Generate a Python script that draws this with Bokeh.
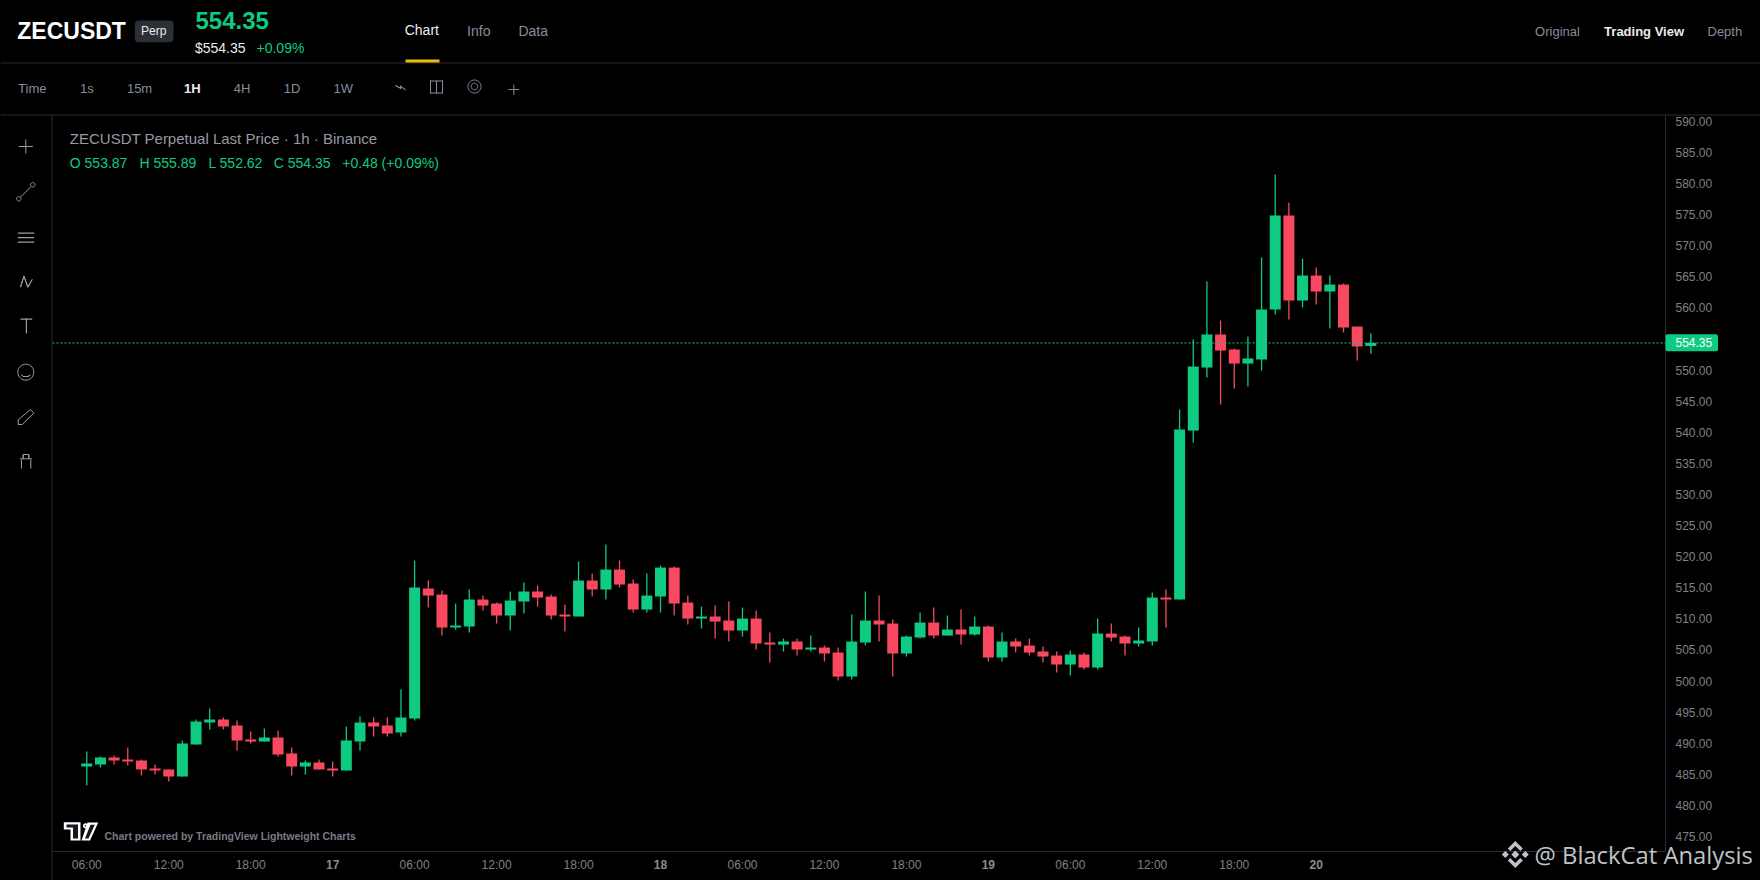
import math
from bokeh.plotting import figure
from bokeh.layouts import column, row
from bokeh.embed import file_html
from bokeh.resources import INLINE
from bokeh.models import (ColumnDataSource, Range1d, FixedTicker, NumeralTickFormatter,
                          Label, BoxAnnotation, PolyAnnotation, Span)

# ---------- data (1h candles) ----------
open_ = [486.26,486.58,487.70,487.38,487.22,485.93,485.77,484.65,489.79,493.33,
         493.81,492.85,490.60,490.27,490.92,488.35,486.26,486.90,485.93,485.61,
         490.27,493.33,492.85,491.72,493.97,514.87,513.90,508.60,508.76,513.10,
         512.46,510.53,512.78,514.39,513.58,510.69,510.37,516.15,514.71,517.92,
         515.67,511.49,513.58,518.24,512.62,510.04,510.37,509.72,508.12,510.04,
         506.19,505.86,506.35,505.06,505.38,504.58,500.72,506.19,509.72,509.24,
         504.42,506.99,509.40,507.31,508.28,507.47,508.76,503.78,506.35,505.70,
         504.74,504.10,502.65,504.26,502.17,507.63,507.15,506.03,506.35,513.42,
         513.10,540.27,550.40,555.71,553.29,551.04,551.69,559.73,574.84,561.17,
         565.19,562.62,563.74,556.99,553.87]
high_ = [488.67,487.86,488.02,489.31,487.38,486.58,485.77,490.44,493.81,495.58,
         494.13,493.65,491.88,492.36,492.04,489.31,487.22,487.38,487.06,492.69,
         494.29,494.13,494.13,498.64,519.37,516.15,514.55,512.46,514.71,513.74,
         512.62,514.39,515.83,515.35,513.90,512.30,519.21,517.28,521.94,519.37,
         516.31,517.28,518.57,518.40,513.74,511.97,512.13,512.78,511.81,511.33,
         507.79,506.83,506.83,507.31,505.70,505.38,510.69,514.39,513.74,509.88,
         507.31,511.01,511.81,510.53,511.49,510.37,508.92,507.79,506.83,506.83,
         505.54,504.74,504.90,504.58,510.05,509.24,507.31,508.60,514.23,514.71,
         543.65,554.90,564.23,557.96,553.45,555.38,568.09,581.43,576.93,567.92,
         566.48,565.19,563.91,556.99,555.89]
low_ = [483.20,486.09,486.58,486.42,484.81,484.97,483.84,484.65,489.79,492.20,
        492.20,488.83,489.95,490.27,487.86,484.81,484.97,485.77,484.65,485.61,
        488.83,491.08,491.08,491.08,493.65,511.81,507.31,508.28,507.79,511.33,
        509.24,508.12,510.85,511.97,509.88,507.95,510.37,513.58,513.10,515.03,
        511.01,511.01,511.01,510.53,509.08,508.44,506.83,506.35,507.15,505.06,
        502.97,504.74,504.10,504.74,503.13,500.08,500.24,505.70,506.35,500.72,
        503.94,506.83,506.83,507.31,505.87,507.31,503.13,503.13,504.58,504.10,
        502.97,501.36,500.88,501.85,501.85,506.35,504.10,505.54,505.70,508.60,
        513.10,538.34,548.79,544.45,547.02,547.35,549.92,558.92,558.12,560.05,
        560.53,556.67,556.03,551.53,552.62]
close_ = [486.74,487.70,487.22,487.06,485.77,485.61,484.65,489.95,493.49,493.81,
          492.69,490.44,490.27,490.92,488.18,486.26,486.90,485.77,485.61,490.44,
          493.33,492.69,491.56,494.13,515.03,513.74,508.60,508.92,513.10,512.13,
          510.53,512.94,514.39,513.42,510.53,510.37,516.15,514.71,517.92,515.51,
          511.49,513.74,518.24,512.46,510.04,510.37,509.56,508.12,510.04,506.03,
          505.86,506.35,505.06,505.38,504.42,500.72,506.35,509.72,509.08,504.42,
          507.15,509.40,507.31,508.28,507.47,508.76,503.78,506.35,505.54,504.58,
          503.94,502.65,504.26,502.17,507.63,506.99,506.03,506.51,513.42,513.10,
          540.43,550.56,555.71,553.13,551.04,551.85,559.73,574.84,561.17,565.19,
          562.62,563.74,556.83,553.78,554.35]
last_price = 554.35
x_ticks = [0,6,12,18,24,30,36,42,48,54,60,66,72,78,84,90]
x_labels = ["06:00","12:00","18:00","17","06:00","12:00","18:00","18",
            "06:00","12:00","18:00","19","06:00","12:00","18:00","20"]
y_ticks = [475,480,485,490,495,500,505,510,515,520,525,530,535,540,545,550,
           560,565,570,575,580,585,590]
intervals = ["1s","15m","1H","4H","1D","1W"]
interval_x = [79.4,126.4,183.5,233.2,283.3,333.1]

# ---------- styles ----------
BG = "#000000"
UP = "#0ecb81"
DOWN = "#f84960"
LINE = "#2b2c36"
GREY = "#848e9c"
AXIS_TXT = "#808080"
FONT = "Liberation Sans"
W, H = 1760, 880

x = list(range(len(open_)))
colors = [UP if c >= o else DOWN for o, c in zip(open_, close_)]
src = ColumnDataSource(dict(x=x, o=open_, h=high_, l=low_, c=close_, color=colors,
                            top=[max(o, c) for o, c in zip(open_, close_)],
                            bot=[min(o, c) for o, c in zip(open_, close_)]))

p = figure(width=W, height=H, output_backend="svg", toolbar_location=None,
           x_range=Range1d(-2.51, 115.57), y_range=Range1d(472.59, 590.92),
           y_axis_location="right", min_border_left=52, min_border_top=115,
           min_border_right=95, min_border_bottom=29, margin=0,
           background_fill_color=BG, border_fill_color=BG, outline_line_color=None)
p.grid.visible = False

p.segment("x", "h", "x", "l", source=src, color="color", line_width=1.3)
p.vbar("x", width=0.805, top="top", bottom="bot", source=src, fill_color="color", line_color=None)

xa = p.xaxis[0]
xa.ticker = FixedTicker(ticks=x_ticks)
xa.major_label_overrides = {t: ("" if len(l) == 2 else l) for t, l in zip(x_ticks, x_labels)}
xa.major_tick_line_color = None
xa.major_tick_out = 0
xa.minor_tick_line_color = None
xa.axis_line_color = "#2a2a2a"
xa.major_label_text_color = AXIS_TXT
xa.major_label_text_font = FONT
xa.major_label_text_font_size = "12px"
xa.major_label_standoff = 6

ya = p.yaxis[0]
ya.ticker = FixedTicker(ticks=y_ticks)
ya.formatter = NumeralTickFormatter(format="0.00")
ya.major_tick_line_color = None
ya.major_tick_out = 0
ya.minor_tick_line_color = None
ya.axis_line_color = LINE
ya.major_label_text_color = AXIS_TXT
ya.major_label_text_font = FONT
ya.major_label_text_font_size = "12px"
ya.major_label_standoff = 10

p.add_layout(Span(location=last_price, dimension="width", line_color=UP, line_width=1, line_dash="2 2"))

# Transparent page-sized layer for the surrounding interface. Its x scale is the
# chart's own time scale, extended to the whole page.
ov = figure(width=W, height=H, output_backend="svg", toolbar_location=None,
            x_range=Range1d(-6.317, 122.526), y_range=Range1d(H, 0),
            x_axis_type=None, y_axis_type=None, min_border=0, margin=0,
            background_fill_alpha=0, border_fill_alpha=0, outline_line_color=None)
ov.grid.visible = False


def txt(px, py, s, size, color, bold=False, align="left", font=FONT, alpha=1.0):
    ov.add_layout(Label(x=px, y=py, x_units="canvas", y_units="canvas", text=s,
                        text_font=font, text_font_size=f"{size}px", text_color=color,
                        text_alpha=alpha, text_font_style="bold" if bold else "normal",
                        text_align=align, text_baseline="middle"))


def rect(x0, y0, x1, y1, color, radius=0):
    ov.add_layout(BoxAnnotation(left=x0, right=x1, top=y0, bottom=y1,
                                left_units="canvas", right_units="canvas",
                                top_units="canvas", bottom_units="canvas",
                                fill_color=color, fill_alpha=1, line_color=None,
                                border_radius=radius))


def poly(pts, fill=None, line=None, width=1.0):
    ov.add_layout(PolyAnnotation(xs=[a for a, _ in pts], ys=[b for _, b in pts],
                                 xs_units="canvas", ys_units="canvas",
                                 fill_color=fill or BG, fill_alpha=1 if fill else 0,
                                 line_color=line or BG, line_alpha=1 if line else 0,
                                 line_width=width))


def path(pts, color, width=1.0):
    poly(pts + pts[-2:0:-1], None, color, width)


def ring(cx, cy, r, color, width=1.0):
    n = 36
    poly([(cx + r * math.cos(2 * math.pi * k / n), cy + r * math.sin(2 * math.pi * k / n)) for k in range(n)],
         None, color, width)


# structure lines
rect(0, 62, W, 63, LINE)
rect(0, 114, W, 115, LINE)
rect(51, 115, 52, H, LINE)

# day labels on the time axis (bold)
for t, l in zip(x_ticks, x_labels):
    if len(l) == 2:
        ov.add_layout(Label(x=t, y=863.9, x_units="data", y_units="canvas", text=l,
                            text_font=FONT, text_font_size="12px", text_color="#8c8c8c",
                            text_font_style="bold", text_align="center", text_baseline="middle"))

# price tag
rect(1665, 333.7, 1717.5, 350.7, UP, 2)
txt(1675, 341.7, "554.35", 12, "#ffffff")

# header
txt(16.8, 30.2, "ZECUSDT", 23, "#ffffff", bold=True)
rect(134.3, 20, 173, 41.7, "#2b2f36", 4)
txt(153.2, 30.2, "Perp", 12, "#eaecef", align="center")
txt(195, 19.8, "554.35", 24, UP, bold=True)
txt(194.4, 47.3, "$554.35", 14, "#eaecef")
txt(256, 47.3, "+0.09%", 14, UP)
txt(404.2, 29.6, "Chart", 14, "#eaecef")
rect(405, 59, 439, 62, "#f0b90b")
txt(466.6, 30.2, "Info", 14, GREY)
txt(517.9, 30.2, "Data", 14, GREY)
txt(1534.6, 31.3, "Original", 13, GREY)
txt(1603.6, 31.3, "Trading View", 13, "#eaecef", bold=True)
txt(1707, 31.3, "Depth", 13, GREY)

# interval row
txt(17.6, 88.3, "Time", 13, GREY)
for lab, ix in zip(intervals, interval_x):
    active = lab == "1H"
    txt(ix, 88.3, lab, 13, "#eaecef" if active else GREY, bold=active)
path([(395, 85), (400.5, 88), (400, 85.5), (405, 89.5)], GREY, 1)
for a, b, c, d in [(429.5, 80, 442.5, 81), (429.5, 92, 442.5, 93), (429.5, 80, 430.5, 93),
                   (441.5, 80, 442.5, 93), (435.5, 80, 436.5, 93)]:
    rect(a, b, c, d, GREY)
ring(474, 86, 6.5, GREY)
ring(474, 86, 3.3, GREY)
rect(508, 88.5, 518.5, 89.5, GREY)
rect(512.8, 84, 513.8, 94.5, GREY)

# legend
txt(69.3, 137.8, "ZECUSDT Perpetual Last Price \u00b7 1h \u00b7 Binance", 15, "#979aa3")
txt(69.3, 162.4, "O 553.87", 14, UP)
txt(139, 162.4, "H 555.89", 14, UP)
txt(207.9, 162.4, "L 552.62", 14, UP)
txt(273.3, 162.4, "C 554.35", 14, UP)
txt(341.8, 162.4, "+0.48 (+0.09%)", 14, UP)

# drawing toolbar
TOOL = "#9b9ea3"
cx = 25.3
rect(cx - 7, 145.5, cx + 7, 146.5, TOOL)
rect(cx - 0.5, 139, cx + 0.5, 153, TOOL)
ring(18.3, 198.3, 2.2, TOOL)
ring(32.3, 184.3, 2.2, TOOL)
path([(20, 196.6), (30.6, 186)], TOOL)
for yy in (232, 236.5, 241):
    rect(17.3, yy, 33.7, yy + 1.2, TOOL)
path([(20, 286.7), (23.4, 275.7), (27.4, 286.7), (31.7, 279)], TOOL)
rect(20, 318, 31.7, 319.2, TOOL)
rect(25.3, 318, 26.5, 333, TOOL)
ring(25.3, 371.7, 8, TOOL)
path([(21, 374.5), (23, 376), (27.5, 376), (29.7, 374.5)], TOOL)
poly([(17.7, 419.3), (30, 409), (33.3, 412.7), (21.7, 424), (17.7, 424)], None, TOOL)
path([(19.3, 458.3), (31.7, 458.3)], TOOL)
path([(22.7, 458.3), (22.7, 454), (28.3, 454), (28.3, 458.3)], TOOL)
rect(20.5, 459, 21.5, 468, TOOL)
rect(29.8, 459, 30.8, 468, TOOL)

# chart attribution logo
poly([(63.3, 821.7), (80, 821.7), (80, 840), (70, 840), (70, 829), (63.3, 829)], "#ffffff")
poly([(66, 824), (77.5, 824), (77.5, 838), (72.5, 838), (72.5, 827), (66, 827)], "#131722")
ring(85, 825.3, 1.6, "#ffffff", 1.8)
poly([(87, 822), (97.7, 822), (89.5, 840), (81, 840)], "#ffffff")
poly([(90, 824.2), (94.3, 824.2), (88, 838), (84.5, 838)], "#131722")
txt(104, 835.4, "Chart powered by TradingView Lightweight Charts", 10.5, "#787b86", bold=True)

# watermark
WM = "#bfc3c8"
mx, my = 1514.8, 854
poly([(mx, my - 4), (mx + 4, my), (mx, my + 4), (mx - 4, my)], WM)
poly([(mx - 13.5, my), (mx - 10, my - 3.5), (mx - 6.5, my), (mx - 10, my + 3.5)], WM)
poly([(mx + 13.5, my), (mx + 10, my - 3.5), (mx + 6.5, my), (mx + 10, my + 3.5)], WM)
poly([(mx, my - 13.5), (mx + 7.5, my - 6), (mx + 5, my - 3.5), (mx, my - 8.5), (mx - 5, my - 3.5), (mx - 7.5, my - 6)], WM)
poly([(mx, my + 13.5), (mx + 7.5, my + 6), (mx + 5, my + 3.5), (mx, my + 8.5), (mx - 5, my + 3.5), (mx - 7.5, my + 6)], WM)
txt(1534, 854, "@ BlackCat Analysis", 23.8, WM, font="Open Sans")

layout = column(row(p, margin=0), row(ov, margin=(-H, 0, 0, 0)), spacing=0, margin=0)
html = file_html(layout, INLINE).replace("</head>", "<style>body{background:#000;overflow:hidden}</style></head>", 1)
open("out.html", "w").write(html)
